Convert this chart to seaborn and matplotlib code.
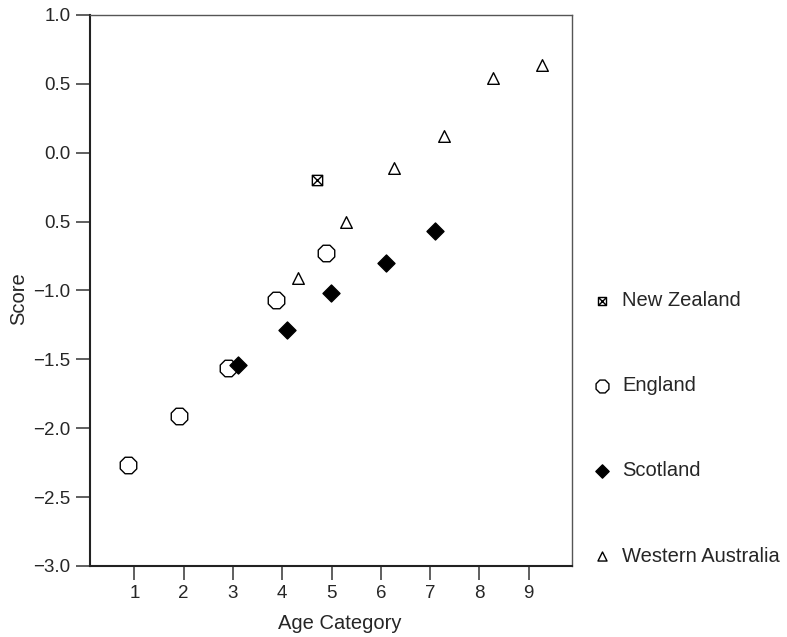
import numpy as np
import pandas as pd
import seaborn as sns
import matplotlib.pyplot as plt
from matplotlib.path import Path

# data
nz_age = [4.71]
nz_score = [-0.20]

england_age = [0.88, 1.91, 2.89, 3.88, 4.89]
england_score = [-2.27, -1.91, -1.56, -1.07, -0.73]

scotland_age = [3.10, 4.10, 4.99, 6.11, 7.09]
scotland_score = [-1.54, -1.29, -1.02, -0.80, -0.57]

wa_age = [4.31, 5.30, 6.27, 7.29, 8.28, 9.28]
wa_score = [-0.91, -0.50, -0.11, 0.12, 0.54, 0.64]

y_ticks = [1.0, 0.5, 0.0, -0.5, -1.0, -1.5, -2.0, -2.5, -3.0]
y_tick_labels = ["1.0", "0.5", "0.0", "0.5", "\u22121.0", "\u22121.5",
                 "\u22122.0", "\u22122.5", "\u22123.0"]
x_ticks = [1, 2, 3, 4, 5, 6, 7, 8, 9]

sns.set_style("ticks")
plt.rcParams['font.family'] = ['Liberation Sans', 'DejaVu Sans']
plt.rcParams['axes.unicode_minus'] = True

# square with a cross inside, for New Zealand
box_x = Path(
    [(-1, -1), (1, -1), (1, 1), (-1, 1), (-1, -1),
     (-1, -1), (1, 1), (-1, 1), (1, -1)],
    [Path.MOVETO, Path.LINETO, Path.LINETO, Path.LINETO, Path.CLOSEPOLY,
     Path.MOVETO, Path.LINETO, Path.MOVETO, Path.LINETO],
)

fig = plt.figure(figsize=(7.87, 6.37), dpi=100)
ax = fig.add_axes([0.1144, 0.1115, 0.6124, 0.865])

groups = [
    ("New Zealand", nz_age, nz_score, box_x, "white", 55),
    ("England", england_age, england_score, "8", "white", 165),
    ("Scotland", scotland_age, scotland_score, "D", "black", 75),
    ("Western Australia", wa_age, wa_score, "^", "white", 70),
]

for name, ages, scores, marker, face, size in groups:
    df = pd.DataFrame({"Age Category": ages, "Score": scores})
    sns.scatterplot(data=df, x="Age Category", y="Score", ax=ax,
                    marker=marker, s=size, facecolor=face,
                    edgecolor="black", linewidth=1.0, label=name)

ax.set_xlim(0.1, 9.88)
ax.set_ylim(-3.0, 1.0)
ax.set_xticks(x_ticks)
ax.set_yticks(y_ticks)
ax.set_yticklabels(y_tick_labels)
ax.tick_params(axis="both", direction="out", length=10, width=1.2,
               color="#444444", labelsize=13.5, pad=4)

for side in ["left", "bottom"]:
    ax.spines[side].set_linewidth(1.5)
    ax.spines[side].set_color("#222222")
for side in ["top", "right"]:
    ax.spines[side].set_visible(True)
    ax.spines[side].set_linewidth(1.0)
    ax.spines[side].set_color("#555555")

ax.set_xlabel("Age Category", fontsize=14.5)
ax.set_ylabel("Score", fontsize=14.5)
ax.xaxis.set_label_coords(0.519, -0.088)
ax.yaxis.set_label_coords(-0.129, 0.485)

leg = ax.legend(loc="upper left", bbox_to_anchor=(1.025, 0.513),
                frameon=False, fontsize=14.5, labelspacing=3.28,
                handletextpad=0.5, markerscale=0.78, handlelength=1.0,
                borderaxespad=0)

fig.savefig("out.png", dpi=100)
